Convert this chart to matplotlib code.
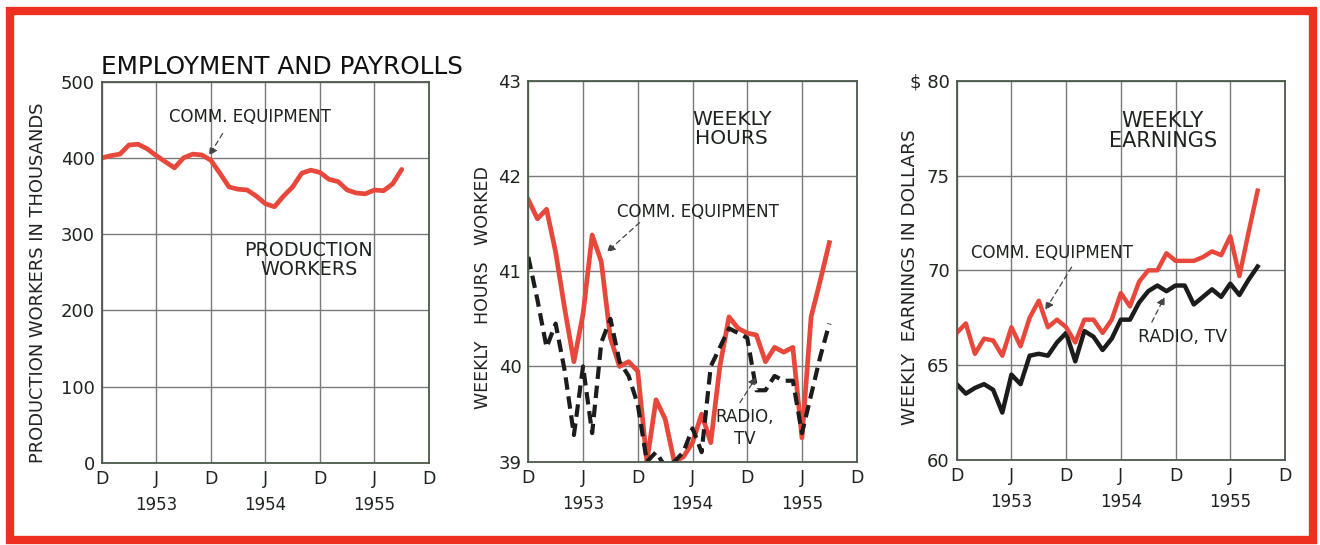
import matplotlib
matplotlib.use("Agg")
import matplotlib.pyplot as plt
from matplotlib.patches import Rectangle

# months counted from Dec 1952 (0) to Dec 1955 (36)
months = list(range(34))
tick_months = [0, 6, 12, 18, 24, 30, 36]
tick_letters = ["D", "J", "D", "J", "D", "J", "D"]
years = ["1953", "1954", "1955"]
year_months = [6, 18, 30]

# production workers, comm. equipment (thousands)
workers = [400, 403, 405, 417, 418, 412, 403, 395, 387, 400, 405, 404,
           397, 380, 362, 359, 358, 350, 340, 336, 350, 362, 380, 384,
           381, 372, 369, 358, 354, 353, 358, 357, 366, 385]

# weekly hours worked
hours_comm = [41.75, 41.55, 41.65, 41.2, 40.6, 40.05, 40.55, 41.38, 41.1, 40.3,
              40.0, 40.05, 39.95, 39.0, 39.65, 39.45, 39.0, 39.05, 39.2, 39.5,
              39.2, 40.0, 40.52, 40.4, 40.35, 40.33, 40.05, 40.2, 40.15, 40.2,
              39.25, 40.52, 40.9, 41.3]
hours_radio = [41.15, 40.7, 40.2, 40.45, 39.95, 39.28, 40.0, 39.3, 40.25, 40.5,
               40.05, 39.9, 39.6, 39.0, 39.1, 38.95, 39.0, 39.1, 39.35, 39.1,
               40.0, 40.2, 40.4, 40.35, 40.3, 39.75, 39.75, 39.9, 39.85, 39.85,
               39.3, 39.7, 40.1, 40.45]

# weekly earnings in dollars
earn_comm = [66.7, 67.2, 65.6, 66.4, 66.3, 65.5, 67.0, 66.0, 67.5, 68.4,
             67.0, 67.4, 67.0, 66.2, 67.4, 67.4, 66.7, 67.4, 68.8, 68.1,
             69.4, 70.0, 70.0, 70.9, 70.5, 70.5, 70.5, 70.7, 71.0, 70.8,
             71.8, 69.7, 72.0, 74.2]
earn_radio = [64.0, 63.5, 63.8, 64.0, 63.7, 62.5, 64.5, 64.0, 65.5, 65.6,
              65.5, 66.2, 66.7, 65.2, 66.8, 66.5, 65.8, 66.4, 67.4, 67.4,
              68.3, 68.9, 69.2, 68.9, 69.2, 69.2, 68.2, 68.6, 69.0, 68.6,
              69.3, 68.7, 69.5, 70.2]

RED = "#e8483b"
BLACK = "#1c1c1c"
INK = "#1e241e"
GRID = "#7a7a7a"
W, H = 1320, 545


def fx(px):
    return px / W


def fy(py):
    return 1 - py / H


fig = plt.figure(figsize=(13.2, 5.45), dpi=100)
fig.patch.set_facecolor("white")

# red frame round the whole plate
fig.patches.append(Rectangle((fx(10), fy(540)), fx(1303), 529 / H,
                             transform=fig.transFigure, fill=False,
                             edgecolor="#ee3020", linewidth=6, zorder=0))


def setup(ax, ylim, yticks, ylabels):
    ax.set_xlim(0, 36)
    ax.set_ylim(*ylim)
    ax.set_xticks(tick_months)
    ax.set_xticklabels(tick_letters)
    ax.set_yticks(yticks)
    ax.set_yticklabels(ylabels)
    ax.tick_params(length=0, labelsize=13, colors=INK, pad=5)
    ax.tick_params(axis="x", pad=5, labelsize=12.5)
    ax.grid(True, color=GRID, linewidth=1.0)
    ax.set_axisbelow(True)
    for s in ax.spines.values():
        s.set_color("#4a5a4a")
        s.set_linewidth(1.3)
    for m, yr in zip(year_months, years):
        ax.text(m, -0.11, yr, transform=ax.get_xaxis_transform(),
                ha="center", va="center", fontsize=12, color=INK)


def pointer(ax, tail, head):
    ax.annotate("", xy=head, xytext=tail,
                arrowprops=dict(arrowstyle="-|>", linestyle=(0, (4, 3)),
                                color="#444444", lw=0.9, mutation_scale=12,
                                shrinkA=0, shrinkB=0))


# panel 1: employment
ax1 = fig.add_axes([fx(101.7), fy(463), fx(327.3), 381.3 / H])
setup(ax1, (0, 500), [0, 100, 200, 300, 400, 500],
      ["0", "100", "200", "300", "400", "500"])
ax1.plot(months, workers, color=RED, lw=3.4, solid_joinstyle="round",
         solid_capstyle="round")
ax1.text(16.3, 454, "COMM. EQUIPMENT", ha="center", va="center",
         fontsize=12, color=INK)
pointer(ax1, (13.3, 432), (11.8, 403))
ax1.text(22.8, 266, "PRODUCTION\nWORKERS", ha="center", va="center",
         fontsize=13.8, color=INK, linespacing=1.0)
fig.text(fx(38.5), fy(283), "PRODUCTION WORKERS IN THOUSANDS", rotation=90,
         ha="center", va="center", fontsize=12.9, color=INK)
fig.text(fx(101), fy(67), "EMPLOYMENT AND PAYROLLS", ha="left", va="center",
         fontsize=17.8, color="#111111")

# panel 2: weekly hours
ax2 = fig.add_axes([fx(528.3), fy(461.7), fx(328.4), 381 / H])
setup(ax2, (39, 43), [39, 40, 41, 42, 43], ["39", "40", "41", "42", "43"])
ax2.plot(months, hours_comm, color=RED, lw=3.4, solid_joinstyle="round")
ax2.plot(months, hours_radio, color=BLACK, lw=3.0, dashes=(3, 1.6))
ax2.text(22.3, 42.49, "WEEKLY\nHOURS", ha="center", va="center",
         fontsize=14.5, color=INK, linespacing=1.0)
ax2.text(18.6, 41.62, "COMM. EQUIPMENT", ha="center", va="center",
         fontsize=12, color=INK)
pointer(ax2, (12.2, 41.51), (8.6, 41.2))
ax2.text(23.7, 39.35, "RADIO,\nTV", ha="center", va="center",
         fontsize=12, color=INK, linespacing=1.3)
pointer(ax2, (23.2, 39.62), (25.0, 39.89))
fig.text(fx(483), fy(288), "WEEKLY   HOURS   WORKED", rotation=90,
         ha="center", va="center", fontsize=12.5, color=INK)

# panel 3: weekly earnings
ax3 = fig.add_axes([fx(956.7), fy(460), fx(328.3), 379.3 / H])
setup(ax3, (60, 80), [60, 65, 70, 75, 80], ["60", "65", "70", "75", "$ 80"])
ax3.plot(months, earn_radio, color=BLACK, lw=3.2, solid_joinstyle="round")
ax3.plot(months, earn_comm, color=RED, lw=3.2, solid_joinstyle="round")
ax3.text(22.6, 77.34, "WEEKLY\nEARNINGS", ha="center", va="center",
         fontsize=15, color=INK, linespacing=1.0)
ax3.text(10.4, 70.9, "COMM. EQUIPMENT", ha="center", va="center",
         fontsize=12, color=INK)
pointer(ax3, (12.6, 70.17), (9.7, 67.9))
ax3.text(24.8, 66.5, "RADIO, TV", ha="center", va="center",
         fontsize=12.5, color=INK)
pointer(ax3, (21.4, 67.27), (22.8, 68.6))
fig.text(fx(910), fy(277), "WEEKLY  EARNINGS IN DOLLARS", rotation=90,
         ha="center", va="center", fontsize=13.2, color=INK)

fig.savefig("out.png", dpi=100, facecolor="white")
